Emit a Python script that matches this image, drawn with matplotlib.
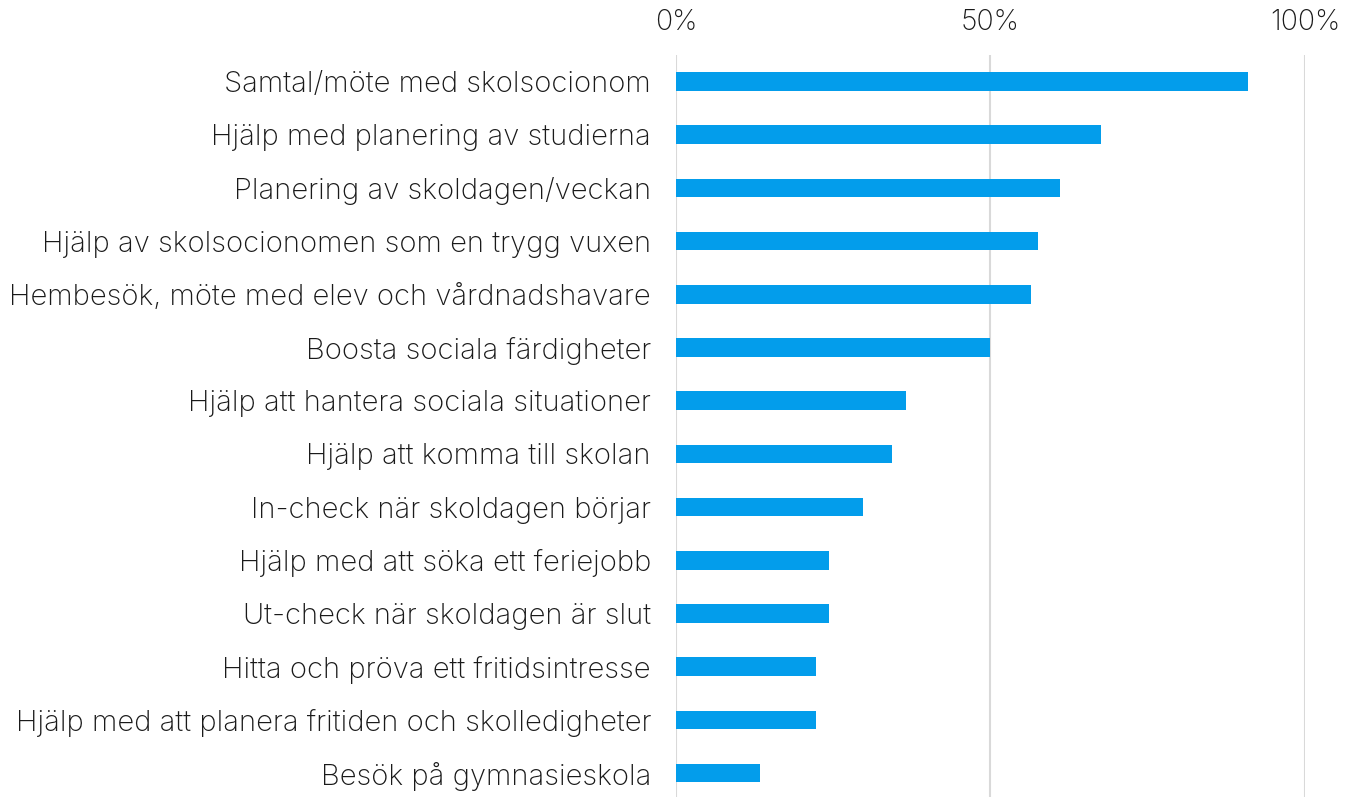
import matplotlib.pyplot as plt
from matplotlib.ticker import FuncFormatter

categories = [
    "Samtal/möte med skolsocionom",
    "Hjälp med planering av studierna",
    "Planering av skoldagen/veckan",
    "Hjälp av skolsocionomen som en trygg vuxen",
    "Hembesök, möte med elev och vårdnadshavare",
    "Boosta sociala färdigheter",
    "Hjälp att hantera sociala situationer",
    "Hjälp att komma till skolan",
    "In-check när skoldagen börjar",
    "Hjälp med att söka ett feriejobb",
    "Ut-check när skoldagen är slut",
    "Hitta och pröva ett fritidsintresse",
    "Hjälp med att planera fritiden och skolledigheter",
    "Besök på gymnasieskola",
]
values = [91.0, 67.6, 61.0, 57.6, 56.5, 50.0, 36.5, 34.3, 29.8, 24.3, 24.3, 22.2, 22.2, 13.3]
ticks = [0, 50, 100]

plt.rcParams['font.family'] = ['Inter', 'DejaVu Sans']
plt.rcParams['font.weight'] = 'light'

fig = plt.figure(figsize=(13.45, 7.97), dpi=100)
ax = fig.add_axes([676 / 1345, 0, 629 / 1345, 742 / 797])

ax.barh(range(len(categories)), values, height=0.35, color='#039DEB', zorder=3)

ax.set_xlim(0, 100)
ax.set_ylim(len(categories) - 0.55, -0.5)
ax.set_yticks(range(len(categories)))
ax.set_yticklabels(categories, fontsize=21, color='#1a1a1a', fontweight='light')
ax.set_xticks(ticks)
ax.xaxis.set_major_formatter(FuncFormatter(lambda v, p: f"{v:.0f}%"))
ax.xaxis.tick_top()
ax.tick_params(axis='x', length=0, pad=14, labelsize=20.5, labelcolor='#1a1a1a')
ax.tick_params(axis='y', length=0, pad=18)
for t in ax.get_xticklabels():
    t.set_fontweight('light')

ax.grid(axis='x', color='#D9D9D9', linewidth=1.5, zorder=0)
for s in ax.spines.values():
    s.set_visible(False)

fig.savefig('out.png', dpi=100)
